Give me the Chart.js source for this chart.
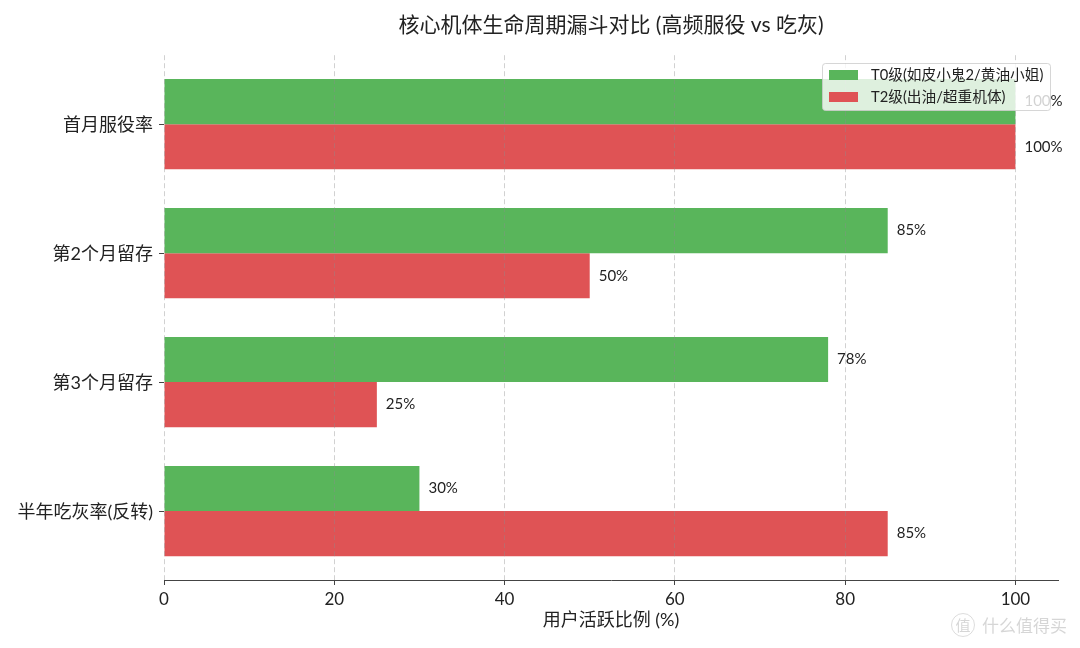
<!DOCTYPE html>
<html>
<head>
<meta charset="utf-8">
<title>核心机体生命周期漏斗对比</title>
<script src="https://cdn.jsdelivr.net/npm/chart.js@4/dist/chart.umd.min.js"></script>
<style>
  html, body { margin: 0; padding: 0; background: #fff; }
  canvas { display: block; }
</style>
</head>
<body>
<canvas id="funnel" width="1080" height="648"></canvas>
<script>
const categories = ['首月服役率', '第2个月留存', '第3个月留存', '半年吃灰率(反转)'];
const t0Values = [100, 85, 78, 30];
const t2Values = [100, 50, 25, 85];
const seriesNames = ['T0级(如皮小鬼2/黄油小姐)', 'T2级(出油/超重机体)'];
const xTicks = [0, 20, 40, 60, 80, 100];

const fontStack = 'Lato, "Noto Sans CJK SC", sans-serif';
const seriesColors = ['#59B55B', '#DF5355'];
const textColor = '#222';

// value labels, legend box and site mark go on top of the finished chart
const overlay = {
    id: 'overlay',
    afterDraw(chart) {
        const ctx = chart.ctx;
        ctx.save();

        ctx.font = '15px ' + fontStack;
        ctx.fillStyle = textColor;
        ctx.textAlign = 'left';
        ctx.textBaseline = 'middle';
        chart.data.datasets.forEach((ds, i) => {
            chart.getDatasetMeta(i).data.forEach((bar, j) => {
                ctx.fillText(ds.data[j].x + '%', bar.x + 9, bar.y);
            });
        });

        // legend
        ctx.beginPath();
        ctx.roundRect(822.5, 63.5, 228, 47, 3);
        ctx.fillStyle = 'rgba(255,255,255,0.8)';
        ctx.fill();
        ctx.strokeStyle = 'rgba(204,204,204,0.8)';
        ctx.lineWidth = 1;
        ctx.stroke();
        ctx.font = '14.7px ' + fontStack;
        chart.data.datasets.forEach((ds, i) => {
            const y = 75 + i * 22;
            ctx.fillStyle = ds.backgroundColor;
            ctx.fillRect(829, y - 5, 29, 10);
            ctx.fillStyle = textColor;
            ctx.fillText(ds.label, 871, y);
        });

        // site mark
        ctx.fillStyle = 'rgba(120,120,120,0.3)';
        ctx.font = '17px "Noto Sans CJK SC", sans-serif';
        ctx.fillText('什么值得买', 982, 626);
        ctx.font = '15px "Noto Sans CJK SC", sans-serif';
        ctx.textAlign = 'center';
        ctx.fillText('值', 963, 625);
        ctx.beginPath();
        ctx.arc(963, 625, 11.5, 0, Math.PI * 2);
        ctx.strokeStyle = 'rgba(120,120,120,0.25)';
        ctx.stroke();

        ctx.restore();
    }
};

const toPoints = values => values.map((v, i) => ({ x: v, y: i }));

new Chart(document.getElementById('funnel'), {
    type: 'bar',
    data: {
        datasets: [
            { label: seriesNames[0], data: toPoints(t0Values), backgroundColor: seriesColors[0] },
            { label: seriesNames[1], data: toPoints(t2Values), backgroundColor: seriesColors[1] }
        ]
    },
    options: {
        indexAxis: 'y',
        responsive: false,
        animation: false,
        categoryPercentage: 0.7,
        barPercentage: 1,
        layout: { padding: { left: 0, right: 22, top: 0, bottom: 17 } },
        plugins: {
            legend: { display: false },
            tooltip: { enabled: false },
            title: {
                display: true,
                text: '核心机体生命周期漏斗对比 (高频服役 vs 吃灰)',
                fullSize: false,
                color: textColor,
                font: { family: fontStack, size: 21, weight: 'normal', lineHeight: 1.2 },
                padding: { top: 13, bottom: 17 }
            }
        },
        scales: {
            x: {
                type: 'linear',
                min: 0,
                max: 105,
                afterBuildTicks: scale => { scale.ticks = xTicks.map(value => ({ value })); },
                // border.z has to sit above grid.z, the border position comes from the grid pass
                border: { display: true, color: '#444', width: 1, dash: [5, 3], z: 2 },
                grid: {
                    z: 1,
                    color: 'rgba(140,140,140,0.4)',
                    tickColor: '#444',
                    tickBorderDash: [],
                    tickLength: 5
                },
                ticks: {
                    color: textColor,
                    padding: 4,
                    maxRotation: 0,
                    font: { family: fontStack, size: 17 }
                },
                title: {
                    display: true,
                    text: '用户活跃比例 (%)',
                    color: textColor,
                    padding: { top: 4, bottom: 0 },
                    font: { family: fontStack, size: 18 }
                },
                afterFit: scale => { scale.height = 51; }
            },
            y: {
                type: 'linear',
                reverse: true,
                offset: false,
                min: -0.535,
                max: 3.535,
                afterBuildTicks: scale => { scale.ticks = categories.map((c, i) => ({ value: i })); },
                border: { display: false },
                grid: {
                    offset: false,
                    drawOnChartArea: false,
                    tickColor: '#444',
                    tickLength: 5
                },
                ticks: {
                    color: textColor,
                    padding: 6,
                    labelOffset: 1,
                    font: { family: fontStack, size: 18 },
                    callback: value => categories[value]
                },
                afterFit: scale => { scale.width = 164; }
            }
        }
    },
    plugins: [overlay]
});
</script>
</body>
</html>
